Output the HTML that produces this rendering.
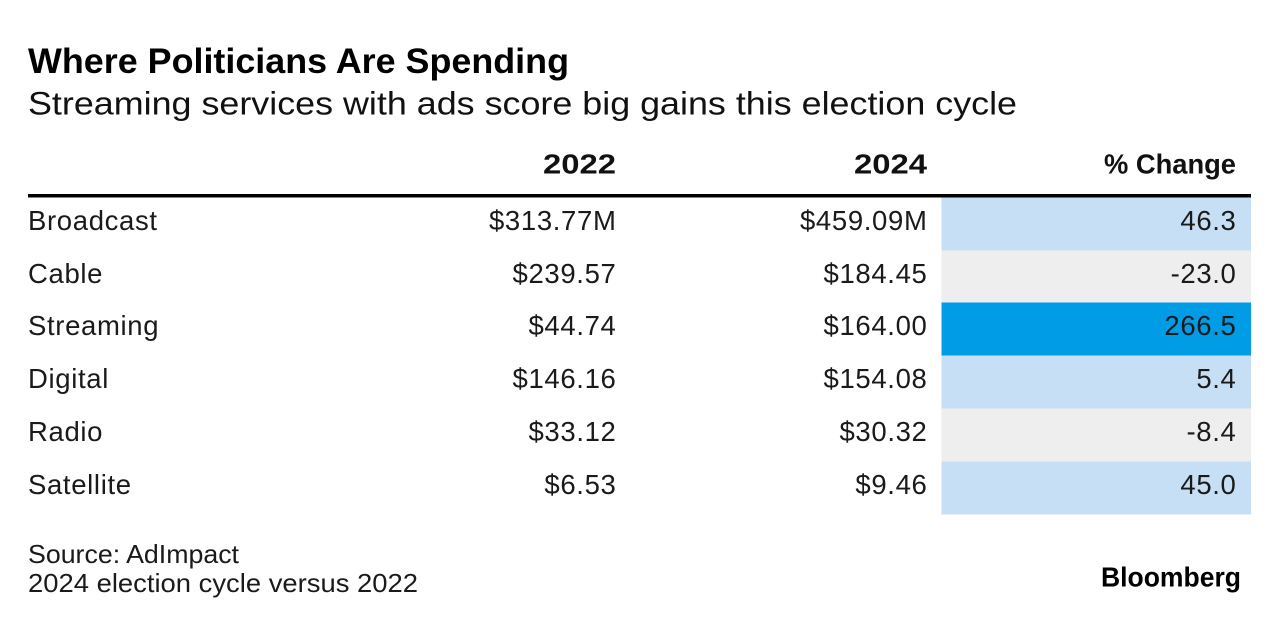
<!DOCTYPE html>
<html lang="en">
<head>
<meta charset="utf-8">
<title>Where Politicians Are Spending</title>
<style>
html,body{margin:0;padding:0;background:#fff;width:1279px;height:622px;overflow:hidden}
svg{display:block;font-family:"Liberation Sans",sans-serif;fill:#111}
.cell{font-size:27.5px;letter-spacing:0.65px;fill:#1a1a1a}
.head{font-size:27.5px;font-weight:700;fill:#111}
</style>
</head>
<body>
<svg id="chart" width="1279" height="622" viewBox="0 0 1279 622" xmlns="http://www.w3.org/2000/svg">
  <rect width="1279" height="622" fill="#fff"/>
  <text x="28" y="73" font-size="35.5" font-weight="700" fill="#000" textLength="541" lengthAdjust="spacingAndGlyphs">Where Politicians Are Spending</text>
  <text x="28" y="114.6" font-size="32.5" fill="#111" textLength="989" lengthAdjust="spacingAndGlyphs">Streaming services with ads score big gains this election cycle</text>
  <text class="head" x="616" y="173.5" text-anchor="end" textLength="73" lengthAdjust="spacingAndGlyphs">2022</text>
  <text class="head" x="927" y="173.5" text-anchor="end" textLength="73" lengthAdjust="spacingAndGlyphs">2024</text>
  <text class="head" x="1236" y="173.5" text-anchor="end" textLength="132" lengthAdjust="spacingAndGlyphs">% Change</text>
  <rect x="28" y="194" width="1223" height="3.5" fill="#000"/>
  <g id="rows"></g>
  <text x="28" y="563" font-size="26" fill="#1a1a1a" textLength="211" lengthAdjust="spacingAndGlyphs">Source: AdImpact</text>
  <text x="28" y="592" font-size="26" fill="#1a1a1a" textLength="390" lengthAdjust="spacingAndGlyphs">2024 election cycle versus 2022</text>
  <text x="1101" y="586.5" font-size="28" font-weight="700" fill="#000" textLength="140" lengthAdjust="spacingAndGlyphs">Bloomberg</text>
</svg>
<script>
const categories = ["Broadcast", "Cable", "Streaming", "Digital", "Radio", "Satellite"];
const values2022 = [313.77, 239.57, 44.74, 146.16, 33.12, 6.53];
const values2024 = [459.09, 184.45, 164.00, 154.08, 30.32, 9.46];
const percentChange = [46.3, -23.0, 266.5, 5.4, -8.4, 45.0];

const svgNS = "http://www.w3.org/2000/svg";
const rowsGroup = document.getElementById("rows");
const rowTop = 197.5;
const rowHeight = 53;
const heatX = 941.5;
const heatWidth = 309.5;

function rowY(i) { return rowTop + i * rowHeight - (i > 1 ? 1 : 0); }
function money(v, i) { return "$" + v.toFixed(2) + (i === 0 ? "M" : ""); }
function heatColor(p) {
  if (p < 0) return "#eeeeee";
  if (p > 100) return "#009ce5";
  return "#c7dff4";
}
function addText(parent, str, x, y, anchor) {
  const t = document.createElementNS(svgNS, "text");
  t.setAttribute("class", "cell");
  t.setAttribute("x", x);
  t.setAttribute("y", y);
  t.setAttribute("text-anchor", anchor);
  t.textContent = str;
  parent.appendChild(t);
  return t;
}

categories.forEach(function (name, i) {
  const y = rowY(i);
  const base = y + 32.5;
  const row = document.createElementNS(svgNS, "g");
  
  

  const cell = document.createElementNS(svgNS, "rect");
  cell.setAttribute("x", heatX);
  cell.setAttribute("y", y);
  cell.setAttribute("width", heatWidth);
  cell.setAttribute("height", rowHeight);
  cell.setAttribute("fill", heatColor(percentChange[i]));
  
  
  row.appendChild(cell);

  const label = addText(row, name, 28, base, "start");
  
  

  const v22 = addText(row, money(values2022[i], i), 616.5, base, "end");
  
  

  const v24 = addText(row, money(values2024[i], i), 927.5, base, "end");
  
  

  const pct = addText(row, percentChange[i].toFixed(1), 1236.5, base, "end");
  
  

  rowsGroup.appendChild(row);
});
</script>
</body>
</html>
